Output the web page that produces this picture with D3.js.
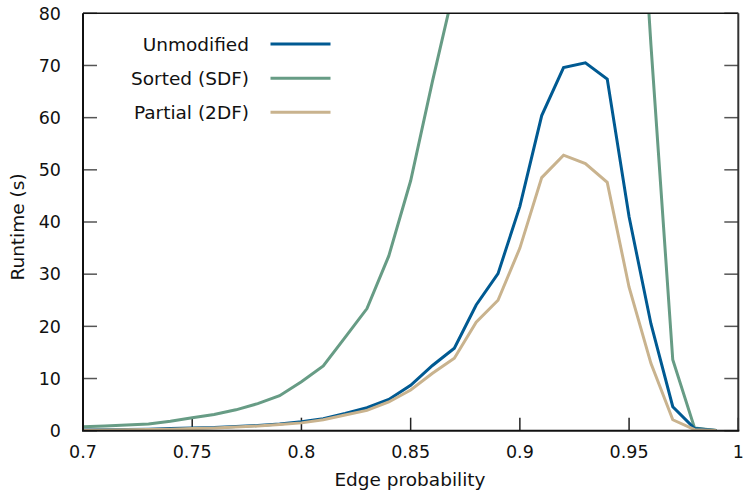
<!DOCTYPE html>
<html><head><meta charset="utf-8">
<script src="https://cdn.jsdelivr.net/npm/d3@7"></script>
<style>
html,body{margin:0;padding:0;background:#fff;}
svg{display:block;font-family:"DejaVu Sans",sans-serif;}
</style></head>
<body>
<script>
const xValues = [0.70,0.71,0.72,0.73,0.74,0.75,0.76,0.77,0.78,0.79,0.80,0.81,0.82,0.83,0.84,0.85,0.86,0.87,0.88,0.89,0.90,0.91,0.92,0.93,0.94,0.95,0.96,0.97,0.98,0.99];
const unmodified = [0.15,0.2,0.25,0.3,0.4,0.5,0.6,0.8,1.0,1.3,1.7,2.3,3.3,4.4,6.0,8.7,12.5,15.8,24.1,30.1,43.0,60.4,69.6,70.5,67.4,41.0,20.5,4.6,0.4,0.05];
const sorted = [0.75,0.9,1.1,1.3,1.8,2.5,3.1,4.0,5.2,6.7,9.4,12.4,17.9,23.4,33.5,47.9,67.0,85,110,140,180,230,270,280,250,140,74,13.6,0.5,0.05];
const partial = [0.1,0.15,0.2,0.25,0.3,0.4,0.5,0.7,0.9,1.2,1.5,2.1,3.0,3.9,5.5,7.8,11.0,13.9,20.8,25.0,35.0,48.5,52.8,51.2,47.6,27.5,12.9,2.1,0.2,0.05];
const seriesNames = ["Unmodified","Sorted (SDF)","Partial (2DF)"];
const seriesColors = ["#005a92","#679c85","#c9b38e"];
const xTicks = [0.7,0.75,0.8,0.85,0.9,0.95,1];
const yTicks = [0,10,20,30,40,50,60,70,80];

const W=743,H=491;
const FS=17.5, FL=18.5;
const m={l:83,r:743-738.3,t:13.3,b:491-430.7};
const svg=d3.select("body").append("svg").attr("width",W).attr("height",H);
const x=d3.scaleLinear().domain([0.7,1]).range([m.l,W-m.r]);
const y=d3.scaleLinear().domain([0,80]).range([H-m.b,m.t]);

svg.append("defs").append("clipPath").attr("id","clip").append("rect")
  .attr("x",m.l).attr("y",m.t).attr("width",x(1)-x(0.7)).attr("height",y(0)-y(80));

// ticks (inward)
const g=svg.append("g");
yTicks.forEach(t=>{
  g.append("line").attr("x1",x(0.7)).attr("x2",x(0.7)+14).attr("y1",y(t)).attr("y2",y(t)).attr("stroke","#555").attr("stroke-width",1.5);
  g.append("line").attr("x1",x(1)).attr("x2",x(1)-14).attr("y1",y(t)).attr("y2",y(t)).attr("stroke","#555").attr("stroke-width",1.5);
  g.append("text").attr("x",61).attr("y",y(t)).attr("dy","0.36em").attr("text-anchor","end").attr("font-size",FS).attr("fill","#111").text(t);
});
xTicks.forEach(t=>{
  g.append("line").attr("x1",x(t)).attr("x2",x(t)).attr("y1",y(0)).attr("y2",y(0)-13).attr("stroke","#222").attr("stroke-width",1.5);
  g.append("text").attr("x",x(t)).attr("y",452).attr("dy","0.36em").attr("text-anchor","middle").attr("font-size",FS).attr("fill","#111").text(t);
});

const line=d3.line().x((d,i)=>x(xValues[i])).y(d=>y(d));
const data=[unmodified,sorted,partial];
const order=[1,0,2];
const plot=svg.append("g").attr("clip-path","url(#clip)");
order.forEach(k=>{
  plot.append("path").attr("d",line(data[k])).attr("fill","none").attr("stroke",seriesColors[k]).attr("stroke-width",3).attr("stroke-linejoin","miter");
});

// border
svg.append("line").attr("x1",x(0.7)).attr("x2",x(1)).attr("y1",y(80)).attr("y2",y(80)).attr("stroke","#111").attr("stroke-width",1.5);
svg.append("line").attr("x1",x(1)).attr("x2",x(1)).attr("y1",y(80)).attr("y2",y(0)).attr("stroke","#333").attr("stroke-width",2);
svg.append("line").attr("x1",x(0.7)).attr("x2",x(0.7)).attr("y1",y(80)).attr("y2",y(0)).attr("stroke","#111").attr("stroke-width",2);
svg.append("line").attr("x1",x(0.7)-1).attr("x2",x(1)+1).attr("y1",y(0)).attr("y2",y(0)).attr("stroke","#111").attr("stroke-width",2);

// legend
const legY=[44,78.3,112.3];
seriesNames.forEach((n,i)=>{
  svg.append("text").attr("x",249).attr("y",legY[i]).attr("dy","0.36em").attr("text-anchor","end").attr("font-size",FL).attr("fill","#111").text(n);
  svg.append("line").attr("x1",270.5).attr("x2",330.5).attr("y1",legY[i]).attr("y2",legY[i]).attr("stroke",seriesColors[i]).attr("stroke-width",3);
});

// axis labels
svg.append("text").attr("x",410).attr("y",479).attr("dy","0.36em").attr("text-anchor","middle").attr("font-size",FL).attr("fill","#111").text("Edge probability");
svg.append("text").attr("transform","translate(17,227) rotate(-90)").attr("dy","0.36em").attr("text-anchor","middle").attr("font-size",FL).attr("fill","#111").text("Runtime (s)");
</script>
</body></html>
